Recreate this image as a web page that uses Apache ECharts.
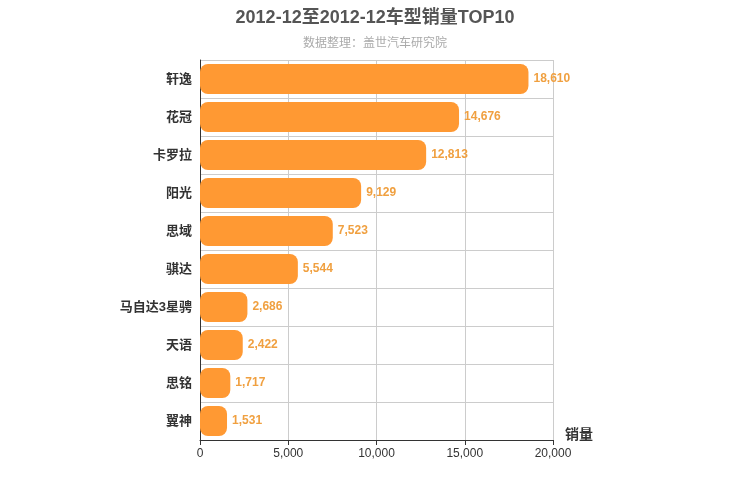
<!DOCTYPE html>
<html>
<head>
<meta charset="utf-8">
<script src="https://cdn.jsdelivr.net/npm/echarts@6/dist/echarts.min.js"></script>
</head>
<body style="margin:0">
<div id="chart" style="width:750px;height:500px"></div>
<script>
var categories = ['轩逸', '花冠', '卡罗拉', '阳光', '思域', '骐达', '马自达3星骋', '天语', '思铭', '翼神'];
var sales = [18610, 14676, 12813, 9129, 7523, 5544, 2686, 2422, 1717, 1531];

var chart = echarts.init(document.getElementById('chart'));
chart.setOption({
    textStyle: {fontFamily: 'Arial, "Noto Sans CJK SC"'},
    title: {
        text: '2012-12至2012-12车型销量TOP10',
        subtext: '数据整理：盖世汽车研究院',
        left: 'center',
        top: 4,
        itemGap: 11,
        textStyle: {fontSize: 18, fontWeight: 'bold', color: '#555'},
        subtextStyle: {fontSize: 12, color: '#aaa'}
    },
    grid: {left: 200, right: 197, top: 60, bottom: 60},
    xAxis: {
        type: 'value',
        min: 0, max: 20000, interval: 5000,
        name: '销量',
        nameGap: 12,
        nameTextStyle: {fontSize: 14, fontWeight: 'bold', color: '#333', verticalAlign: 'top', padding: [-12, 0, 0, 0]},
        axisLine: {show: true, lineStyle: {color: '#333'}},
        axisTick: {show: true, lineStyle: {color: '#333'}},
        axisLabel: {color: '#333', fontSize: 12},
        splitLine: {lineStyle: {color: '#ccc'}}
    },
    yAxis: {
        type: 'category',
        data: categories,
        inverse: true,
        axisLine: {lineStyle: {color: '#333'}},
        axisTick: {show: false},
        axisLabel: {color: '#333', fontSize: 13, fontWeight: 'bold'},
        splitLine: {show: true, lineStyle: {color: '#ccc'}}
    },
    series: [{
        type: 'bar',
        data: sales,
        barWidth: 30,
        itemStyle: {color: '#FF9933', borderRadius: 8},
        label: {
            show: true, position: 'right', color: '#F0A040', fontSize: 12, fontWeight: 'bold',
            formatter: function (p) { return p.value.toLocaleString('en-US'); }
        }
    }]
});
</script>
</body>
</html>
